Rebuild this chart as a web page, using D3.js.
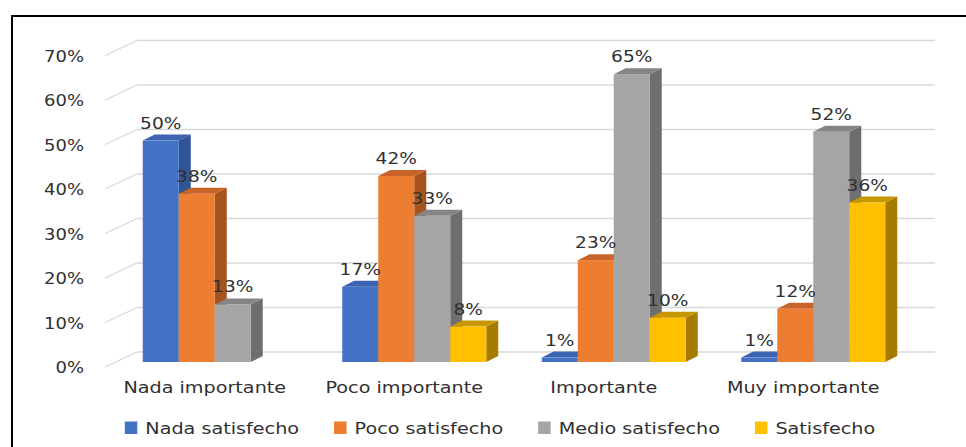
<!DOCTYPE html>
<html>
<head>
<meta charset="utf-8">
<script src="https://cdn.jsdelivr.net/npm/d3@7"></script>
<style>
  body { margin: 0; background: #fff; }
  svg { display: block; }
  text { font-family: "DejaVu Sans", sans-serif; fill: #303030; }
</style>
</head>
<body>
<svg></svg>
<script>
// chart values
const categories = ["Nada importante", "Poco importante", "Importante", "Muy importante"];
const seriesNames = ["Nada satisfecho", "Poco satisfecho", "Medio satisfecho", "Satisfecho"];
const nadaSatisfecho = [50, 17, 1, 1];
const pocoSatisfecho = [38, 42, 23, 12];
const medioSatisfecho = [13, 33, 65, 52];
const satisfecho = [null, 8, 10, 36];
const yTicks = [0, 10, 20, 30, 40, 50, 60, 70];

const seriesValues = [nadaSatisfecho, pocoSatisfecho, medioSatisfecho, satisfecho];
const faceColors = [
  { front: "#4472C4", side: "#2F5597", top: "#3C64B2" },
  { front: "#ED7D31", side: "#A5541E", top: "#C8642A" },
  { front: "#A5A5A5", side: "#6E6E6E", top: "#858585" },
  { front: "#FFC000", side: "#A67C00", top: "#C89700" }
];

const width = 966, height = 447;
const svg = d3.select("svg").attr("width", width).attr("height", height);

// text looks stretched horizontally in the original
const stretch = 1.2;

// depth of the 3d look
const barDx = 12, barDy = -6;     // bar depth
const wallDx = 32, wallDy = -15;  // floor depth to back wall

// scales
const x0 = d3.scaleBand().domain(categories).range([115, 913]);
const x1 = d3.scaleBand().domain(seriesNames).range([27.75, 171.75]);
const yBar = d3.scaleLinear().domain([0, 70]).range([362, 52]);
const yWall = d3.scaleLinear().domain([0, 70]).range([352, 40.5]);

// border
svg.append("rect")
  .attr("x", 12).attr("y", 16)
  .attr("width", 1000).attr("height", 500)
  .attr("fill", "none")
  .attr("stroke", "#000")
  .attr("stroke-width", 2);

// gridlines on back wall + side wall diagonals
const wallLeft = 137, wallRight = 935;
const grid = svg.append("g");
yTicks.forEach(t => {
  grid.append("line")
    .attr("x1", wallLeft).attr("x2", wallRight)
    .attr("y1", yWall(t)).attr("y2", yWall(t))
    .attr("stroke", "#d9d9d9").attr("stroke-width", 1.3);
  grid.append("line")
    .attr("x1", wallLeft - wallDx).attr("y1", yWall(t) - wallDy)
    .attr("x2", wallLeft).attr("y2", yWall(t))
    .attr("stroke", "#d9d9d9").attr("stroke-width", 1.3);
});

// helper for stretched text
function stretchedText(g, x, y, str, size, anchor) {
  return g.append("text")
    .attr("transform", `translate(${x},${y}) scale(${stretch},1)`)
    .attr("text-anchor", anchor)
    .attr("font-size", size + "px")
    .text(str);
}

// y tick labels
const yAxisG = svg.append("g");
yTicks.forEach(t => {
  stretchedText(yAxisG, 84, yWall(t) - wallDy + 6, t + "%", 15, "end");
});

// bars, drawn left to right so later fronts cover earlier sides
const bars = svg.append("g");
const labels = [];
categories.forEach((cat, ci) => {
  seriesNames.forEach((s, si) => {
    const v = seriesValues[si][ci];
    if (v == null) return;
    const bx = x0(cat) + x1(s);
    const bw = x1.bandwidth();
    const yt = yBar(v), yb = yBar(0);
    const c = faceColors[si];
    // side face
    bars.append("path")
      .attr("d", `M${bx + bw},${yb} L${bx + bw + barDx},${yb + barDy} L${bx + bw + barDx},${yt + barDy} L${bx + bw},${yt} Z`)
      .attr("fill", c.side);
    // top face
    bars.append("path")
      .attr("d", `M${bx},${yt} L${bx + barDx},${yt + barDy} L${bx + bw + barDx},${yt + barDy} L${bx + bw},${yt} Z`)
      .attr("fill", c.top);
    // front face
    bars.append("rect")
      .attr("x", bx).attr("y", yt)
      .attr("width", bw).attr("height", yb - yt)
      .attr("fill", c.front);
    labels.push({ x: bx + bw / 2, y: yt - 12, text: v + "%" });
  });
});

// data labels on top of everything
const labelG = svg.append("g");
labels.forEach(d => stretchedText(labelG, d.x, d.y, d.text, 15.5, "middle"));

// category labels (shifted left a bit like the 3d projection)
const catG = svg.append("g");
categories.forEach(cat => {
  stretchedText(catG, x0(cat) + x0.bandwidth() / 2 - 10, 393, cat, 16, "middle");
});

// legend
const legend = svg.append("g");
const items = [];
let total = 0;
seriesNames.forEach((s, i) => {
  const t = stretchedText(legend, 0, 433.5, s, 16, "start");
  const w = t.node().getComputedTextLength() * stretch;
  items.push({ t, w, i });
  total += 12.5 + 8 + w + (i < seriesNames.length - 1 ? 35 : 0);
});
let lx = 500 - total / 2;
items.forEach(d => {
  legend.append("rect")
    .attr("x", lx).attr("y", 421.5)
    .attr("width", 12.5).attr("height", 12.5)
    .attr("fill", faceColors[d.i].front);
  d.t.attr("transform", `translate(${lx + 20.5},433.5) scale(${stretch},1)`);
  lx += 12.5 + 8 + d.w + 35;
});
</script>
</body>
</html>
